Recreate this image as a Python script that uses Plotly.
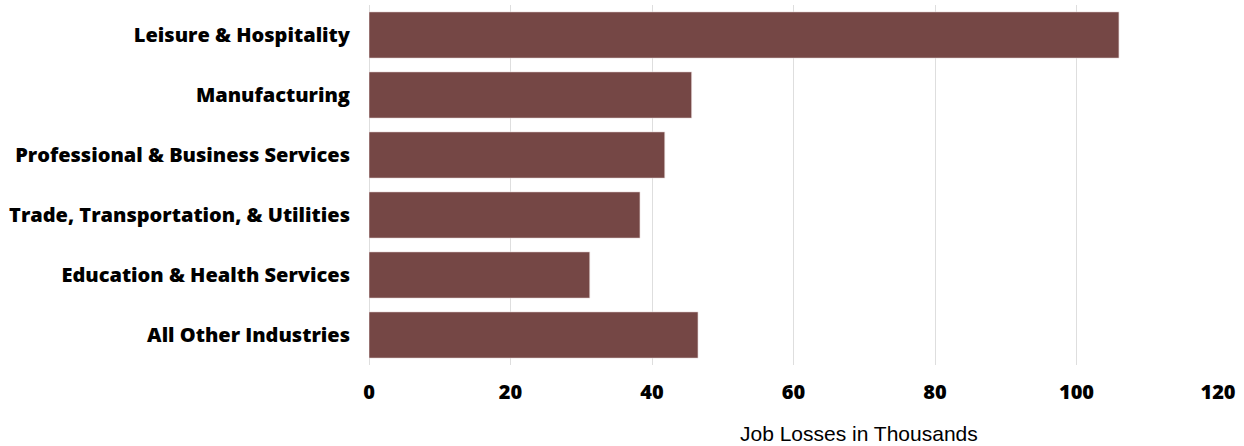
import plotly.graph_objects as go

# Job losses by industry (thousands)
industries = [
    "Leisure & Hospitality",
    "Manufacturing",
    "Professional & Business Services",
    "Trade, Transportation, & Utilities",
    "Education & Health Services",
    "All Other Industries",
]
job_losses = [106.0, 45.6, 41.8, 38.3, 31.2, 46.5]
x_ticks = [0, 20, 40, 60, 80, 100, 120]

BAR_COLOR = "#754745"
LABEL_FONT = "Open Sans"

fig = go.Figure(
    go.Bar(
        x=job_losses,
        y=industries,
        orientation="h",
        width=0.77,
        marker=dict(color=BAR_COLOR, line=dict(color="#e6d8d8", width=0.6)),
        hoverinfo="x+y",
    )
)

fig.update_layout(
    width=1244,
    height=446,
    margin=dict(l=369, r=26, t=5, b=81),
    plot_bgcolor="white",
    paper_bgcolor="white",
    showlegend=False,
    bargap=0.23,
    xaxis=dict(
        range=[0, 120],
        tickvals=x_ticks,
        ticktext=[str(v) for v in x_ticks],
        showgrid=True,
        gridcolor="#dedede",
        gridwidth=1,
        zeroline=True,
        zerolinecolor="#dedede",
        zerolinewidth=1,
        showline=False,
        ticks="",
        ticklabelstandoff=13,
        tickfont=dict(family=LABEL_FONT, size=20, color="black", weight=800),
        fixedrange=True,
    ),
    yaxis=dict(
        autorange="reversed",
        showgrid=False,
        showline=False,
        ticks="",
        ticklabelstandoff=18,
        tickfont=dict(family=LABEL_FONT, size=20, color="black", weight=800),
        fixedrange=True,
    ),
    annotations=[
        dict(
            text="Job Losses in Thousands",
            xref="paper",
            yref="paper",
            x=0.577,
            y=0,
            yshift=-68,
            xanchor="center",
            yanchor="middle",
            showarrow=False,
            font=dict(family="Liberation Sans", size=21, color="black"),
        )
    ],
)

fig.write_html("out.html")
